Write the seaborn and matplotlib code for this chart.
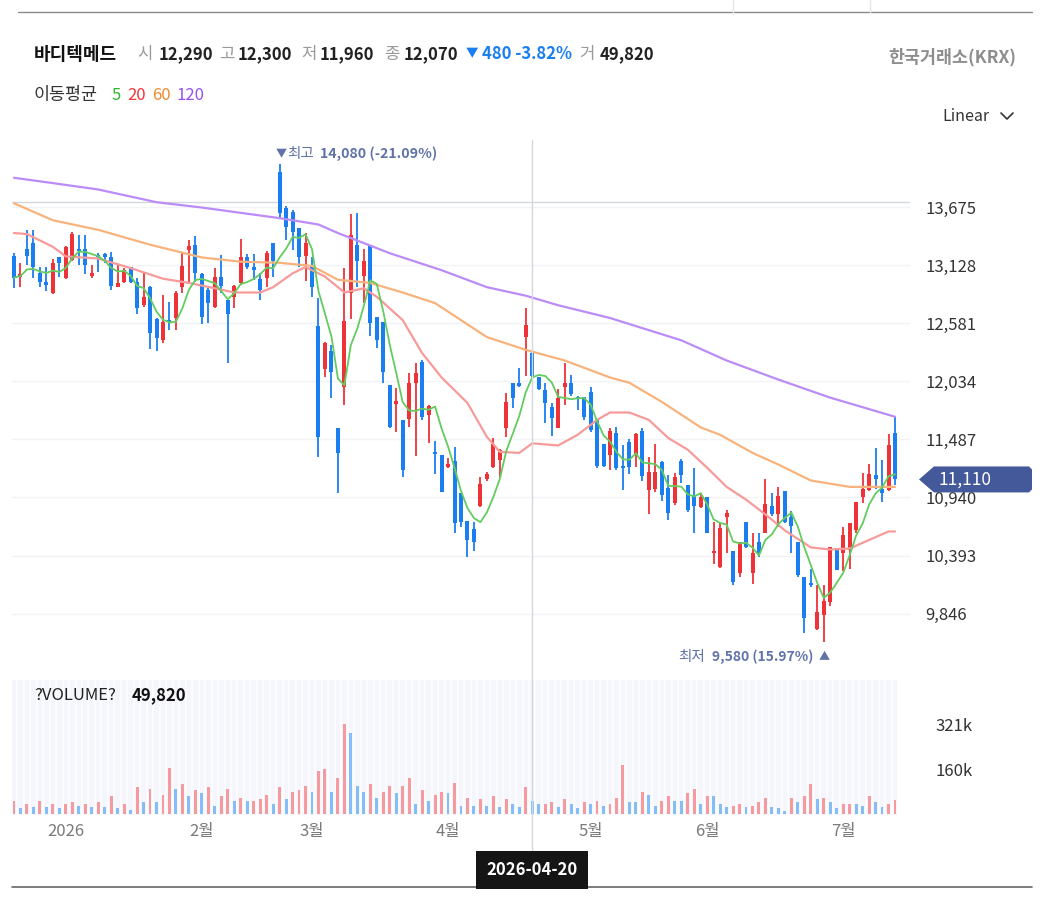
import numpy as np
import pandas as pd
import seaborn as sns
import matplotlib.pyplot as plt
from matplotlib.lines import Line2D
from matplotlib.patches import Polygon

# daily candles, oldest first
opens = [13210, 13020, 13280, 13340, 13050, 12970, 12870, 13200, 13010, 13180,
         13280, 13280, 13030, 13220, 13230, 13200, 12920, 12970, 13110, 12970,
         12750, 12920, 12620, 12420, 12610, 12630, 12920, 13270, 13320, 13040,
         12890, 12730, 13020, 12800, 12830, 12960, 13200, 13110, 13000, 13010,
         13340, 14000, 13670, 13630, 13480, 13210, 13120, 12550, 12150, 12320,
         11590, 11980, 12870, 13320, 13030, 13310, 12640, 12590, 12000, 11820,
         11670, 11680, 12020, 12220, 11720, 11370, 11340, 11230, 11280, 10980,
         10720, 10640, 10860, 11110, 11230, 11290, 11590, 12020, 12020, 12450,
         12300, 12070, 11950, 11790, 11590, 11980, 12020, 11890, 11890, 11930,
         11670, 11440, 11340, 11550, 11230, 11460, 11340, 11570, 11010, 11020,
         11270, 11030, 10890, 11280, 11060, 10950, 10850, 10940, 10420, 10290,
         10760, 10440, 10230, 10710, 10230, 10520, 10610, 10860, 10780, 11000,
         10760, 10520, 10190, 10130, 9700, 9830, 9960, 10460, 10420, 10450,
         10630, 10940, 11010, 11150, 11020, 11010, 11550]
highs = [13240, 13150, 13460, 13460, 13110, 13110, 13190, 13200, 13310, 13440,
         13410, 13410, 13130, 13240, 13240, 13250, 13130, 13100, 13110, 13010,
         13050, 12930, 12630, 12850, 12780, 12880, 13240, 13360, 13400, 13050,
         12910, 13100, 13220, 12800, 12940, 13370, 13230, 13230, 13050, 13260,
         13340, 14080, 13680, 13650, 13480, 13430, 13200, 12820, 12400, 12380,
         11590, 13100, 13610, 13620, 13280, 13310, 12640, 12590, 12000, 11970,
         11670, 12110, 12210, 12230, 11810, 11470, 11340, 11310, 11420, 10980,
         10720, 10710, 11130, 11180, 11500, 11400, 11920, 12020, 12160, 12720,
         12310, 12070, 12020, 11830, 11960, 12210, 12090, 11900, 11890, 11980,
         11670, 11440, 11590, 11600, 11430, 11490, 11550, 11590, 11320, 11440,
         11280, 11150, 11170, 11300, 11060, 11220, 10980, 10940, 10710, 10700,
         10820, 10440, 10520, 10710, 10610, 10610, 11110, 10980, 11040, 11000,
         10810, 10520, 10190, 10270, 10120, 10120, 10470, 10460, 10660, 10700,
         10900, 11170, 11260, 11410, 11290, 11540, 11700]
lows = [12910, 12920, 13130, 13010, 12920, 12880, 12860, 13020, 13000, 13170,
        13130, 13040, 13010, 13060, 13150, 12890, 12920, 12960, 12960, 12670,
        12730, 12340, 12320, 12390, 12520, 12520, 12870, 12970, 12970, 12570,
        12580, 12720, 12870, 12210, 12720, 12940, 13090, 12990, 12800, 12920,
        13020, 13570, 13360, 13270, 13110, 12980, 12830, 11320, 12070, 11880,
        10980, 11810, 12620, 12920, 12770, 12460, 12350, 12020, 11590, 11560,
        11130, 11600, 11330, 11670, 11450, 11160, 10990, 11220, 10610, 10660,
        10380, 10440, 10850, 11100, 11220, 11120, 11510, 11780, 11980, 12080,
        12070, 11950, 11640, 11520, 11590, 11810, 11900, 11760, 11670, 11560,
        11220, 11230, 11200, 11200, 11010, 11160, 11230, 11100, 10780, 10990,
        10910, 10730, 10870, 11080, 10800, 10610, 10840, 10610, 10310, 10280,
        10420, 10120, 10190, 10460, 10130, 10380, 10610, 10770, 10660, 10700,
        10420, 10190, 9660, 10100, 9690, 9580, 9920, 10260, 10250, 10270,
        10610, 10890, 11000, 11020, 10900, 11000, 11060]
closes = [13010, 13040, 13210, 13110, 12970, 12940, 13150, 13150, 13300, 13420,
          13260, 13130, 13050, 13200, 13200, 12930, 12960, 13080, 12970, 12720,
          12830, 12490, 12440, 12590, 12590, 12870, 13120, 13310, 13050, 12640,
          12770, 13020, 12930, 12670, 12930, 13200, 13110, 13080, 12890, 13240,
          13170, 13620, 13490, 13440, 13200, 13340, 12920, 11510, 12390, 12120,
          11360, 12600, 13410, 13170, 13170, 12580, 12420, 12120, 11600, 11850,
          11200, 12020, 12110, 11700, 11800, 11350, 10990, 11260, 10700, 10710,
          10540, 10520, 11070, 11160, 11440, 11390, 11840, 11880, 11990, 12560,
          12080, 11960, 11830, 11690, 11880, 12020, 11910, 11870, 11700, 11580,
          11240, 11240, 11570, 11220, 11220, 11230, 11540, 11140, 11180, 11180,
          10960, 10790, 11130, 11150, 10820, 10860, 10940, 10610, 10440, 10650,
          10790, 10140, 10520, 10470, 10420, 10420, 10880, 10780, 10950, 10710,
          10670, 10210, 9810, 10120, 9860, 9970, 10470, 10260, 10590, 10700,
          10900, 11020, 11160, 11110, 10980, 11430, 11110]
volumes = [48000, 20000, 36000, 25000, 47000, 25000, 36000, 20000, 36000, 42000,
           30000, 36000, 25000, 42000, 25000, 63000, 20000, 36000, 14000, 96000,
           42000, 90000, 42000, 68000, 166000, 90000, 106000, 63000, 85000, 74000,
           96000, 30000, 63000, 90000, 47000, 57000, 47000, 47000, 53000, 68000,
           36000, 96000, 53000, 79000, 85000,
           100000, 79000, 155000, 160000, 79000, 128000, 322000, 290000, 100000, 79000,
           106000, 57000, 79000, 100000, 74000, 100000, 128000, 36000, 85000, 47000,
           68000, 79000, 74000, 111000, 30000, 57000, 30000, 53000, 30000, 63000,
           25000, 53000, 36000, 25000, 96000, 47000, 36000, 36000, 42000, 25000,
           53000, 36000, 20000, 42000, 36000, 47000,
           30000, 36000, 57000, 177000, 42000, 42000, 79000, 68000, 30000, 47000,
           63000, 47000, 47000, 74000, 90000, 36000, 63000, 63000, 36000, 25000,
           30000, 36000, 25000, 30000, 42000, 57000, 25000, 20000, 10000, 57000,
           42000, 63000, 106000, 53000, 57000, 42000, 20000, 36000, 36000, 36000,
           30000, 63000, 42000, 25000, 36000, 49820]
vol_up = [1, 0, 1, 0, 1, 0, 1, 0, 1, 1, 0, 1, 0, 1, 0, 1, 0, 1, 0, 1,
          0, 1, 0, 1, 1, 0, 1, 0, 1, 0, 1, 0, 1, 1, 0, 1, 0, 1, 1, 1,
          0, 1, 0, 1, 1,
          1, 0, 1, 1, 0, 1, 1, 0, 0, 0, 1, 0, 1, 1, 0, 1, 1, 0, 1, 0,
          1, 1, 0, 1, 0, 1, 0, 1, 0, 1, 0, 1, 0, 0, 1, 0, 0, 1, 1, 0,
          1, 0, 0, 1, 0, 1,
          0, 1, 1, 1, 0, 0, 1, 0, 0, 1, 1, 0, 0, 1, 1, 0, 1, 0, 0, 0,
          1, 1, 0, 1, 1, 1, 0, 0, 0, 1, 0, 1, 1, 0, 1, 0, 0, 1, 1, 0,
          0, 1, 0, 0, 1, 1]

# moving averages (candle index, price)
ma20_idx = [0, 2, 6, 8, 13, 18, 23, 27, 31, 34, 38, 40, 43, 44, 45, 48, 51, 54, 56,
            60, 63, 66, 70, 73, 75, 78, 80, 84, 87, 90, 92, 95, 98, 101, 104, 107,
            110, 113, 116, 119, 123, 126, 129, 132, 135, 136]
ma20_val = [13430, 13420, 13300, 13210, 13190, 13100, 13000, 12960, 12910, 12870,
            12870, 12920, 13050, 13080, 13110, 13020, 12870, 12910, 12830, 12610,
            12300, 12070, 11830, 11510, 11370, 11360, 11450, 11430, 11530, 11670,
            11740, 11740, 11670, 11500, 11390, 11220, 11040, 10920, 10780, 10630,
            10470, 10450, 10460, 10540, 10620, 10620]
ma60_idx = [0, 6, 13, 21, 29, 35, 41, 46, 50, 55, 60, 65, 69, 73, 79, 85, 92, 95,
            100, 106, 109, 114, 118, 123, 129, 136]
ma60_val = [13710, 13550, 13460, 13320, 13200, 13160, 13150, 13120, 12990, 12960,
            12870, 12770, 12610, 12450, 12330, 12230, 12070, 12020, 11840, 11600,
            11530, 11360, 11250, 11100, 11040, 11040]
ma120_idx = [0, 6, 13, 22, 29, 35, 41, 47, 50, 58, 66, 73, 79, 84, 92, 103, 110,
             118, 126, 136]
ma120_val = [13950, 13900, 13840, 13720, 13670, 13620, 13570, 13510, 13430, 13240,
             13080, 12920, 12840, 12750, 12630, 12420, 12230, 12050, 11880, 11700]

month_pos = [8, 29, 46, 67, 89, 107, 128]
month_labels = ["2026", "2월", "3월", "4월", "5월", "6월", "7월"]
price_ticks = [9846, 10393, 10940, 11487, 12034, 12581, 13128, 13675]
vol_ticks = [160500, 321000]
vol_tick_labels = ["160k", "321k"]
cross_idx = 80
cross_date = "2026-04-20"
cross_price = 13722

RED = "#ee3338"
BLUE = "#1a7ef0"
RED_V = "#f59a9e"
BLUE_V = "#85bdf7"

df = pd.DataFrame({"open": opens, "high": highs, "low": lows, "close": closes})
df["i"] = np.arange(len(df))
df["ma5"] = df["close"].rolling(5, min_periods=1).mean()
df["up"] = df["close"] >= df["open"]

vdf = pd.DataFrame({"i": df["i"], "volume": volumes,
                    "dir": ["up" if v else "down" for v in vol_up]})

sns.set_style("white")
plt.rcParams["font.family"] = ["Noto Sans CJK KR", "DejaVu Sans"]

W, H = 1045, 897
fig = plt.figure(figsize=(W / 100, H / 100), dpi=100)


def fx(px):
    return px / W


def fy(py):
    return 1 - py / H


def ftext(px, py, s, **kw):
    kw.setdefault("va", "center")
    return fig.text(fx(px), fy(py), s, **kw)


# price pane
ax = fig.add_axes([fx(12), fy(668), fx(910) - fx(12), fy(140) - fy(668)])
ax.set_xlim(-0.309, 138.31)
ax.set_ylim(9334.7, 14305.8)
for t in price_ticks:
    ax.axhline(t, color="#f1f3f6", lw=1, zorder=0)
ax.axhline(cross_price, color="#d3d7de", lw=1, zorder=1)

col = np.where(df["up"], RED, BLUE)
ax.vlines(df["i"], df["low"], df["high"], colors=col, lw=1.3, zorder=2)
body_lo = np.minimum(df["open"], df["close"])
body_h = np.maximum((df["open"] - df["close"]).abs(), 12)
ax.bar(df["i"], body_h, bottom=body_lo, width=0.62, color=col, lw=0, zorder=3)

sns.lineplot(x=ma120_idx, y=ma120_val, color="#bb8cf7", lw=1.6, ax=ax, zorder=4)
sns.lineplot(x=ma60_idx, y=ma60_val, color="#f8b37c", lw=1.6, ax=ax, zorder=4)
sns.lineplot(x=ma20_idx, y=ma20_val, color="#f79a9a", lw=1.6, ax=ax, zorder=4)
sns.lineplot(data=df, x="i", y="ma5", color="#62cc5e", lw=1.3, ax=ax, zorder=5)

ax.set_xlim(-0.309, 138.31)
ax.set_ylim(9334.7, 14305.8)
ax.set_xticks([])
ax.yaxis.tick_right()
ax.set_yticks(price_ticks)
ax.set_yticklabels([f"{t:,}" for t in price_ticks], fontsize=12, color="#333333")
ax.tick_params(axis="y", length=0, pad=11)
ax.set_xlabel("")
ax.set_ylabel("")
for s in ax.spines.values():
    s.set_visible(False)
ax.patch.set_alpha(0)

# high / low labels
imax = int(df["high"].idxmax())
imin = int(df["low"].idxmin())
ann = "#6073a8"
ax.annotate("▼", (imax, highs[imax]), xytext=(-4, 10), textcoords="offset pixels",
            fontsize=8, color=ann, ha="left", va="center")
ax.annotate("최고", (imax, highs[imax]), xytext=(8, 10), textcoords="offset pixels",
            fontsize=10.5, color=ann, ha="left", va="center")
ax.annotate(f"{highs[imax]:,} (-21.09%)", (imax, highs[imax]), xytext=(40, 10),
            textcoords="offset pixels", fontsize=10.2, color=ann, weight="bold",
            ha="left", va="center")
ax.annotate("▲", (imin, lows[imin]), xytext=(0, -15), textcoords="offset pixels",
            fontsize=8, color=ann, ha="center", va="center")
ax.annotate(f"{lows[imin]:,} (15.97%)", (imin, lows[imin]), xytext=(-10, -15),
            textcoords="offset pixels", fontsize=10, color=ann, weight="bold",
            ha="right", va="center")
ax.annotate("최저", (imin, lows[imin]), xytext=(-146, -15), textcoords="offset pixels",
            fontsize=10.5, color=ann, ha="left", va="center")

# volume pane
axv = fig.add_axes([fx(12), fy(815), fx(897) - fx(12), fy(680) - fy(815)])
axv.set_facecolor("#f5f6fb")
for k in range(-1, len(df)):
    axv.axvline(k + 0.5, color="white", lw=1.1, zorder=0)
sns.barplot(data=vdf, x="i", y="volume", hue="dir",
            palette={"up": RED_V, "down": BLUE_V}, native_scale=True,
            width=0.45, dodge=False, legend=False, errorbar=None,
            saturation=1, linewidth=0, ax=axv, zorder=2)
axv.set_xlim(-0.309, 136.31)
axv.set_ylim(-3600, 479700)
axv.yaxis.tick_right()
axv.set_yticks(vol_ticks)
axv.set_yticklabels(vol_tick_labels, fontsize=12, color="#333333")
axv.set_xticks(month_pos)
axv.set_xticklabels(month_labels, fontsize=12, color="#7a7a7a")
axv.tick_params(axis="y", length=0, pad=28)
axv.tick_params(axis="x", length=0, pad=6)
axv.set_xlabel("")
axv.set_ylabel("")
for s in axv.spines.values():
    s.set_visible(False)

ftext(34, 695, "?VOLUME?", fontsize=12, color="#222222")
ftext(132, 695, f"{volumes[-1]:,}", fontsize=12, color="#111111", weight="bold")

# crosshair + date box
fig.canvas.draw()
cx = ax.transData.transform((cross_idx, 0))[0] / fig.bbox.width
fig.add_artist(Line2D([cx, cx], [fy(140), fy(853)], color="#d3d7de", lw=1, zorder=1))
ftext(cx * W, 870, cross_date, fontsize=12, color="white", weight="bold", ha="center",
      bbox=dict(boxstyle="square,pad=0.62", fc="#151515", ec="none"))

# last price tag
ty = ax.transData.transform((0, closes[-1]))[1]
py = H - ty
tag = Polygon([(fx(919), fy(py)), (fx(934), fy(py - 13)), (fx(1029), fy(py - 13)),
               (fx(1032), fy(py - 10)), (fx(1032), fy(py + 10)), (fx(1029), fy(py + 13)),
               (fx(934), fy(py + 13))], closed=True, fc="#44599a", ec="none",
              transform=fig.transFigure)
fig.add_artist(tag)
ftext(965, py, f"{closes[-1]:,}", fontsize=12.5, color="white", ha="center")

# header
fig.add_artist(Line2D([fx(18), fx(1032)], [fy(12), fy(12)], color="#8a8a8a", lw=1))
for xx in [733, 870]:
    fig.add_artist(Line2D([fx(xx), fx(xx)], [fy(0), fy(12)], color="#e6e6e6", lw=1))
fig.add_artist(Line2D([fx(12), fx(1032)], [fy(887), fy(887)], color="#666666", lw=1.2))

ftext(34, 54, "바디텍메드", fontsize=13, weight="bold", color="#111111")
hdr = [(137, "시", "#9a9a9a", "normal"), (159, "12,290", "#222222", "bold"),
       (219, "고", "#9a9a9a", "normal"), (238, "12,300", "#222222", "bold"),
       (301, "저", "#9a9a9a", "normal"), (320, "11,960", "#222222", "bold"),
       (384, "종", "#9a9a9a", "normal"), (404, "12,070", "#222222", "bold"),
       (466, "▼", "#1a7ef0", "normal"), (482, "480 -3.82%", "#1a7ef0", "bold"),
       (579, "거", "#9a9a9a", "normal"), (600, "49,820", "#222222", "bold")]
for xx, s, c, w in hdr:
    ftext(xx, 54, s, fontsize=12 if s != "▼" else 9, color=c, weight=w)
ftext(1016, 57, "한국거래소(KRX)", fontsize=12.5, weight="bold", color="#8e8e8e", ha="right")

ftext(34, 95, "이동평균", fontsize=12.5, color="#333333")
for xx, s, c in [(112, "5", "#2db82d"), (127, "20", "#f0353b"),
                 (152, "60", "#f08a2e"), (177, "120", "#9950f5")]:
    ftext(xx, 95, s, fontsize=12, color=c)

ftext(942, 116, "Linear", fontsize=11.5, color="#333333")
fig.add_artist(Line2D([fx(1001), fx(1007), fx(1013)], [fy(113), fy(119), fy(113)],
                      color="#333333", lw=1.2))

plt.savefig("out.png", dpi=100)
